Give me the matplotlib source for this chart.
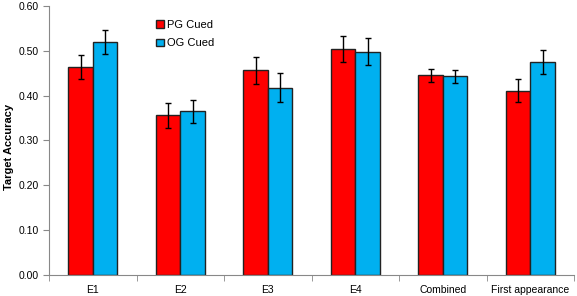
import numpy as np
import matplotlib.pyplot as plt

plt.rcParams['font.family'] = ['Liberation Sans', 'DejaVu Sans']

categories = ['E1', 'E2', 'E3', 'E4', 'Combined', 'First appearance']
pg_cued = [0.464, 0.356, 0.456, 0.504, 0.445, 0.411]
pg_err = [0.027, 0.028, 0.030, 0.030, 0.015, 0.025]
og_cued = [0.519, 0.365, 0.418, 0.498, 0.443, 0.475]
og_err = [0.027, 0.026, 0.033, 0.030, 0.015, 0.026]

fig = plt.figure(figsize=(5.77, 2.96), dpi=100)
ax = fig.add_axes([0.085, 0.071, 0.91, 0.909])

x = np.arange(len(categories))
w = 0.28
err_kw = dict(ecolor='black', elinewidth=1, capsize=2.5, capthick=1)
ax.bar(x - w / 2, pg_cued, w, yerr=pg_err, color='#FF0000', edgecolor='#222222',
       linewidth=1, label='PG Cued', error_kw=err_kw)
ax.bar(x + w / 2, og_cued, w, yerr=og_err, color='#00B0F0', edgecolor='#222222',
       linewidth=1, label='OG Cued', error_kw=err_kw)

ax.set_xlim(-0.5, len(categories) - 0.5)
ax.set_ylim(0, 0.6)
ax.set_yticks(np.arange(0, 0.61, 0.1))
ax.set_yticklabels([f'{v:.2f}' for v in np.arange(0, 0.61, 0.1)])
ax.set_xticks(x)
ax.set_xticklabels(categories)
ax.set_xticks(np.arange(-0.5, len(categories), 1), minor=True)
ax.tick_params(axis='x', which='major', length=0, labelsize=7.5, pad=7)
ax.tick_params(axis='x', which='minor', length=4, color='#888888')
ax.tick_params(axis='y', length=4, color='#888888', labelsize=7.5)

for s in ['top', 'right']:
    ax.spines[s].set_visible(False)
for s in ['left', 'bottom']:
    ax.spines[s].set_color('#888888')

ax.set_ylabel('Target Accuracy', fontsize=8, fontweight='bold')
ax.yaxis.set_label_coords(-0.066, 0.476)

ax.legend(loc='upper left', bbox_to_anchor=(0.185, 0.985), frameon=False, fontsize=8,
          handlelength=0.7, handleheight=0.7, handletextpad=0.3, labelspacing=0.75)

fig.savefig('out.png', dpi=100)
